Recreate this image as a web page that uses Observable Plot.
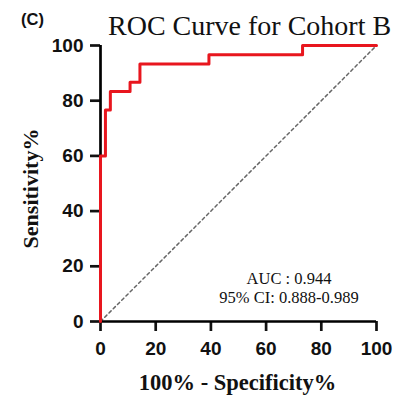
<!DOCTYPE html>
<html>
<head>
<meta charset="utf-8">
<script src="https://cdn.jsdelivr.net/npm/d3@7"></script>
<script src="https://cdn.jsdelivr.net/npm/@observablehq/plot@0.6"></script>
<style>
  html, body { margin: 0; padding: 0; background: #fff; }
  #wrap { position: relative; width: 393px; height: 399px; overflow: hidden; background: #fff; }
  #spacer { height: 35px; }
  #head { position: absolute; left: 0; top: 0; width: 393px; height: 45px; overflow: visible; pointer-events: none; }
</style>
</head>
<body>
<div id="wrap">
  <div id="spacer"></div>
  <div id="chart"></div>
  <svg id="head" width="393" height="45">
    <text id="panel" x="21" y="25" font-family="'Liberation Sans', Arial, sans-serif" font-weight="bold" font-size="16.5" fill="#111">(C)</text>
    <text id="title" x="108" y="35" font-family="'Liberation Serif', 'Times New Roman', serif" font-size="28" fill="#111">ROC Curve for Cohort B</text>
  </svg>
</div>
<script>
// ROC curve points (100% - Specificity %, Sensitivity %)
const fpr = [0, 0, 1.79, 3.57, 10.71, 14.29, 39.29, 73.21, 100];
const tpr = [0, 60, 76.67, 83.33, 86.67, 93.33, 96.67, 100, 100];
// reference diagonal
const diagX = [0, 100];
const diagY = [0, 100];
const ticks = [0, 20, 40, 60, 80, 100];
const xLabel = "100% - Specificity%";
const yLabel = "Sensitivity%";
const statLines = ["AUC : 0.944", "95% CI: 0.888-0.989"];

const roc = fpr.map((x, i) => ({x, y: tpr[i]}));
const diag = diagX.map((x, i) => ({x, y: diagY[i]}));

const serif = "'Liberation Serif', 'Times New Roman', serif";
const sansBold = {fontFamily: "'Liberation Sans', Arial, sans-serif", fontWeight: "bold", fontSize: 19};
const plot = Plot.plot({
  width: 393,
  height: 364,
  marginTop: 10,
  marginBottom: 78,
  marginLeft: 100,
  marginRight: 17,
  style: {color: "#111", overflow: "visible"},
  x: {domain: [0, 100]},
  y: {domain: [0, 100]},
  marks: [
    Plot.line(diag, {x: "x", y: "y", stroke: "#666", strokeWidth: 1.5, strokeDasharray: "3,3"}),
    Plot.axisX({ticks, tickSize: 10, tickPadding: 10, strokeWidth: 2.7, label: null, ...sansBold}),
    Plot.axisY({ticks, tickSize: 10, tickPadding: 7, strokeWidth: 2.7, label: null, ...sansBold}),
    Plot.ruleX([0], {stroke: "#000", strokeWidth: 2.7}),
    Plot.ruleY([0], {stroke: "#000", strokeWidth: 2.7, x1: 0, x2: 100}),
    Plot.line(roc, {x: "x", y: "y", curve: "step-after", stroke: "#e8161e", strokeWidth: 3}),
    Plot.text([xLabel], {frameAnchor: "bottom", textAnchor: "middle", lineAnchor: "bottom", dx: -1, dy: 68, fontFamily: serif, fontWeight: "bold", fontSize: 22.5, fill: "#111"}),
    Plot.text([yLabel], {frameAnchor: "left", textAnchor: "middle", lineAnchor: "middle", rotate: -90, dx: -70, dy: 5, fontFamily: serif, fontWeight: "bold", fontSize: 22, fill: "#111"}),
    Plot.text([statLines.join("\n")], {frameAnchor: "bottom-right", textAnchor: "middle", lineAnchor: "bottom", lineHeight: 1.12, dx: -87.5, dy: -19, fontFamily: serif, fontSize: 16.5, fill: "#111"})
  ]
});
document.getElementById("chart").appendChild(plot);
</script>
</body>
</html>
